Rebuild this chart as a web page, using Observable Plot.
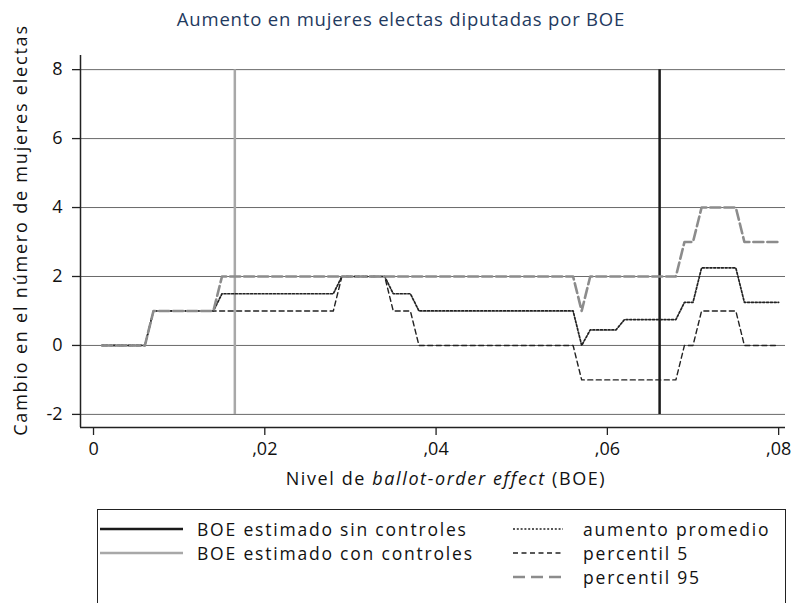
<!DOCTYPE html>
<html><head><meta charset="utf-8">
<script src="https://cdn.jsdelivr.net/npm/d3@7"></script>
<script src="https://cdn.jsdelivr.net/npm/@observablehq/plot@0.6"></script>
<style>
body{margin:0;background:#fff;font-family:"Open Sans", sans-serif;width:794px;height:603px;overflow:hidden;position:relative;color:#111;}
#title{position:absolute;left:4px;width:794px;top:7px;line-height:24px;text-align:center;font-size:18.5px;letter-spacing:0.8px;color:#1f3a60;}
#chart{position:absolute;left:0;top:40px;}
#xtitle{position:absolute;left:100px;width:692px;top:466px;line-height:24px;text-align:center;font-size:18px;letter-spacing:1.6px;}
#ytitle{position:absolute;left:20px;top:230px;width:0;height:0;}
#ytitle span{position:absolute;transform:translate(-50%,-50%) rotate(-90deg);white-space:nowrap;font-size:18px;letter-spacing:1.8px;}
#legendbox{position:absolute;left:97px;top:509px;width:689px;height:120px;border:1.5px solid #222;box-sizing:border-box;}
.item{position:absolute;height:24px;font-size:17.5px;letter-spacing:1.8px;line-height:24px;white-space:nowrap;}
.item svg{position:absolute;top:0;left:0;}
</style></head>
<body>
<div id="title"></div>
<div id="chart"></div>
<div id="ytitle"><span></span></div>
<div id="xtitle">Nivel de <i>ballot-order effect</i> (BOE)</div>
<div id="legendbox"></div>
<div id="legend"></div>
<script>
// ---- data ----
const boe = [0.001,0.002,0.003,0.004,0.005,0.006,0.007,0.008,0.009,0.010,
 0.011,0.012,0.013,0.014,0.015,0.016,0.017,0.018,0.019,0.020,
 0.021,0.022,0.023,0.024,0.025,0.026,0.027,0.028,0.029,0.030,
 0.031,0.032,0.033,0.034,0.035,0.036,0.037,0.038,0.039,0.040,
 0.041,0.042,0.043,0.044,0.045,0.046,0.047,0.048,0.049,0.050,
 0.051,0.052,0.053,0.054,0.055,0.056,0.057,0.058,0.059,0.060,
 0.061,0.062,0.063,0.064,0.065,0.066,0.067,0.068,0.069,0.070,
 0.071,0.072,0.073,0.074,0.075,0.076,0.077,0.078,0.079,0.080];
const aumentoPromedio = [0,0,0,0,0,0,1,1,1,1,
 1,1,1,1,1.5,1.5,1.5,1.5,1.5,1.5,
 1.5,1.5,1.5,1.5,1.5,1.5,1.5,1.5,2,2,
 2,2,2,2,1.5,1.5,1.5,1,1,1,
 1,1,1,1,1,1,1,1,1,1,
 1,1,1,1,1,1,0,0.45,0.45,0.45,
 0.45,0.75,0.75,0.75,0.75,0.75,0.75,0.75,1.25,1.25,
 2.25,2.25,2.25,2.25,2.25,1.25,1.25,1.25,1.25,1.25];
const percentil5 = [0,0,0,0,0,0,1,1,1,1,
 1,1,1,1,1,1,1,1,1,1,
 1,1,1,1,1,1,1,1,2,2,
 2,2,2,2,1,1,1,0,0,0,
 0,0,0,0,0,0,0,0,0,0,
 0,0,0,0,0,0,-1,-1,-1,-1,
 -1,-1,-1,-1,-1,-1,-1,-1,0,0,
 1,1,1,1,1,0,0,0,0,0];
const percentil95 = [0,0,0,0,0,0,1,1,1,1,
 1,1,1,1,2,2,2,2,2,2,
 2,2,2,2,2,2,2,2,2,2,
 2,2,2,2,2,2,2,2,2,2,
 2,2,2,2,2,2,2,2,2,2,
 2,2,2,2,2,2,1,2,2,2,
 2,2,2,2,2,2,2,2,3,3,
 4,4,4,4,4,3,3,3,3,3];
const boeSinControles = 0.0661;
const boeConControles = 0.0165;
const xTicks = [0,0.02,0.04,0.06,0.08];
const yTicks = [-2,0,2,4,6,8];
const titleText = "Aumento en mujeres electas diputadas por BOE";
const yLabel = "Cambio en el número de mujeres electas";
const legendLeft = ["BOE estimado sin controles","BOE estimado con controles"];
const legendRight = ["aumento promedio","percentil 5","percentil 95"];

document.getElementById("title").textContent = titleText;
document.querySelector("#ytitle span").textContent = yLabel;

const rows = boe.map((x,i)=>({x, mean: aumentoPromedio[i], p5: percentil5[i], p95: percentil95[i]}));
const xDomain = [-0.00152, 0.0808];
const yDomain = [-2.38, 8.41];
const font = "'Open Sans', sans-serif";

const chart = Plot.plot({
  width: 794, height: 425,
  marginLeft: 80, marginRight: 9, marginTop: 15, marginBottom: 38,
  style: {fontFamily: font, fontSize: "18px", color: "#111", background: "#fff"},
  x: {domain: xDomain},
  y: {domain: yDomain},
  marks: [
    Plot.gridY(yTicks, {stroke: "#6a6a6a", strokeOpacity: 1, strokeWidth: 1}),
    Plot.ruleX([boeConControles], {y1: yTicks[0], y2: yTicks[yTicks.length-1], stroke: "#a8a8a8", strokeWidth: 2.5}),
    Plot.ruleX([boeSinControles], {y1: yTicks[0], y2: yTicks[yTicks.length-1], stroke: "#1a1a1a", strokeWidth: 2.5}),
    Plot.line(rows, {x: "x", y: "p5", stroke: "#222", strokeWidth: 1.4, strokeDasharray: "5,3.5"}),
    Plot.line(rows, {x: "x", y: "mean", stroke: "#222", strokeWidth: 1.7, strokeDasharray: "2,1.8"}),
    Plot.line(rows, {x: "x", y: "p95", stroke: "#8c8c8c", strokeWidth: 2.6, strokeDasharray: "10,4"}),
    Plot.axisX(xTicks, {tickSize: 8, tickPadding: 7, label: null, stroke: "#222", strokeWidth: 1.3,
      tickFormat: d => d === 0 ? "0" : d3.format(".2f")(d).replace("0.", ",")}),
    Plot.axisY(yTicks, {tickSize: 8, tickPadding: 10, label: null, stroke: "#222", strokeWidth: 1.3,
      tickFormat: d => String(d)}),
    Plot.ruleX([xDomain[0]], {stroke: "#222", strokeWidth: 1.5}),
    Plot.ruleY([yDomain[0]], {stroke: "#222", strokeWidth: 1.5})
  ]
});
document.getElementById("chart").appendChild(chart);

// legend (page coordinates)
const legend = document.getElementById("legend");
function addItem(label, left, centerY, sampleW, textLeft, stroke, width, dash){
  const div = document.createElement("div");
  div.className = "item";
  div.style.left = left + "px"; div.style.top = (centerY - 12) + "px";
  const svg = d3.create("svg").attr("width", sampleW).attr("height", 24);
  svg.append("line").attr("x1", 0).attr("x2", sampleW).attr("y1", 12).attr("y2", 12)
    .attr("stroke", stroke).attr("stroke-width", width).attr("stroke-dasharray", dash || null);
  div.appendChild(svg.node());
  const span = document.createElement("span");
  span.textContent = label;
  span.style.position = "absolute"; span.style.left = textLeft + "px";
  div.appendChild(span);
  legend.appendChild(div);
}
addItem(legendLeft[0], 100, 529, 83, 97, "#1a1a1a", 2.5);
addItem(legendLeft[1], 100, 553, 83, 97, "#a8a8a8", 2.5);
addItem(legendRight[0], 513, 529, 50, 70, "#222", 1.7, "2,1.8");
addItem(legendRight[1], 513, 553, 50, 70, "#222", 1.4, "5,3.5");
addItem(legendRight[2], 513, 577, 50, 70, "#8c8c8c", 2.6, "12,6");
</script>
</body></html>
